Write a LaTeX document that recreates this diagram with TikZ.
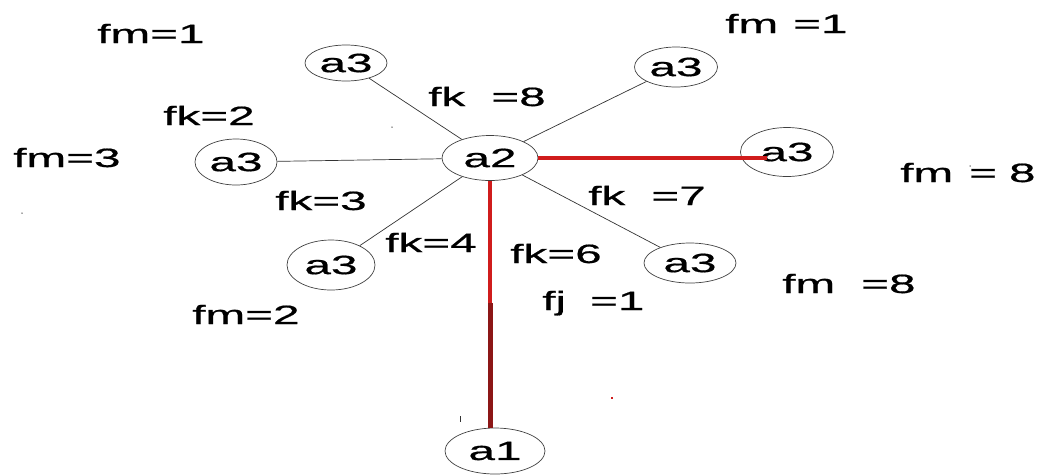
\documentclass[tikz,border=0pt]{standalone}
\usepackage{fontspec}
\setmainfont[FakeStretch=1.8,FakeBold=0.6]{Liberation Sans}
\usetikzlibrary{shapes.geometric}
\newcommand{\lblfont}{\fontsize{26.5pt}{30pt}\selectfont}
\definecolor{edgered}{RGB}{208,28,28}
\definecolor{edgedark}{RGB}{140,22,22}
\begin{document}
\begin{tikzpicture}[x=1pt,y=-1pt,
  nd/.style={ellipse,draw=black!75,line width=0.7pt,inner sep=0pt,font=\lblfont},
  lbl/.style={anchor=base west,inner sep=0pt,font=\lblfont},
  thinedge/.style={draw=black!80,line width=0.7pt},
  rededge/.style={draw=edgered,line width=3.2pt},
  darkedge/.style={draw=edgedark,line width=5pt},
  speck/.style={fill=black!70,inner sep=0pt,minimum size=1.5pt,circle}]
\useasboundingbox (0,0) rectangle (1055,475);
% nodes
\node[nd,minimum width=96pt,minimum height=45pt] (a2) at (490,158) {a2};
\node[nd,minimum width=82pt,minimum height=36pt] (tl) at (346,63) {a3};
\node[nd,minimum width=83pt,minimum height=40pt] (tr) at (676,67) {a3};
\node[nd,minimum width=93pt,minimum height=49pt] (r) at (787,152) {\raisebox{-4pt}{a3}\hspace{10pt}};
\node[nd,minimum width=82pt,minimum height=46pt] (l) at (236,162) {a3};
\node[nd,minimum width=88pt,minimum height=50pt] (ll) at (331,265) {a3};
\node[nd,minimum width=92pt,minimum height=40pt] (lr) at (690,263) {a3};
\node[nd,minimum width=100pt,minimum height=46pt] (a1) at (495,451) {a1};
% connectors
\draw[thinedge] (a2) -- (tl);
\draw[thinedge] (a2) -- (tr);
\draw[thinedge] (a2) -- (l);
\draw[thinedge] (a2) -- (ll);
\draw[thinedge] (a2) -- (lr);
\coordinate (rend) at ([xshift=-20pt]r.center);
\draw[rededge] (a2.east) -- (a2.east -| rend);
\draw[rededge] (a2.south) -- (a2.south |- a1.north);
\coordinate (dk) at (490,303);
\draw[darkedge] (dk) -- (dk |- a1.north);
% labels
\node[lbl] (t1) at (97,43) {fm=1};
\node[lbl] (t2) at (725,33) {fm\hspace{15pt}=1};
\node[lbl] (t3) at (428,106) {fk\hspace{26pt}=8};
\node[lbl] (t4) at (163,125) {fk=2};
\node[lbl] (t5) at (13,167) {fm=3};
\node[lbl] (t6) at (275,210) {fk=3};
\node[lbl] (t7) at (385,252) {fk=4};
\node[lbl] (t8) at (192,324) {fm=2};
\node[lbl] (t9) at (588,205) {fk\hspace{26pt}=7};
\node[lbl] (t10) at (510,263) {fk=6};
\node[lbl] (t11) at (542,310) {fj\hspace{24pt}=1};
\node[lbl] (t12) at (900,182) {fm\hspace{16pt}=\hspace{12pt}8};
\node[lbl] (t13) at (782,293) {fm\hspace{26pt}=8};
% specks
\node[speck] (s1) at (970,166) {};
\node[speck] (s2) at (392,127) {};
\node[speck] (s3) at (22,213) {};
\node[fill=edgered,inner sep=0pt,minimum size=2pt] (s4) at (612,398) {};
\coordinate (tk) at (460,416);
\draw[black!80,line width=0.8pt] (tk) -- ++(0,6);
\end{tikzpicture}
\end{document}
